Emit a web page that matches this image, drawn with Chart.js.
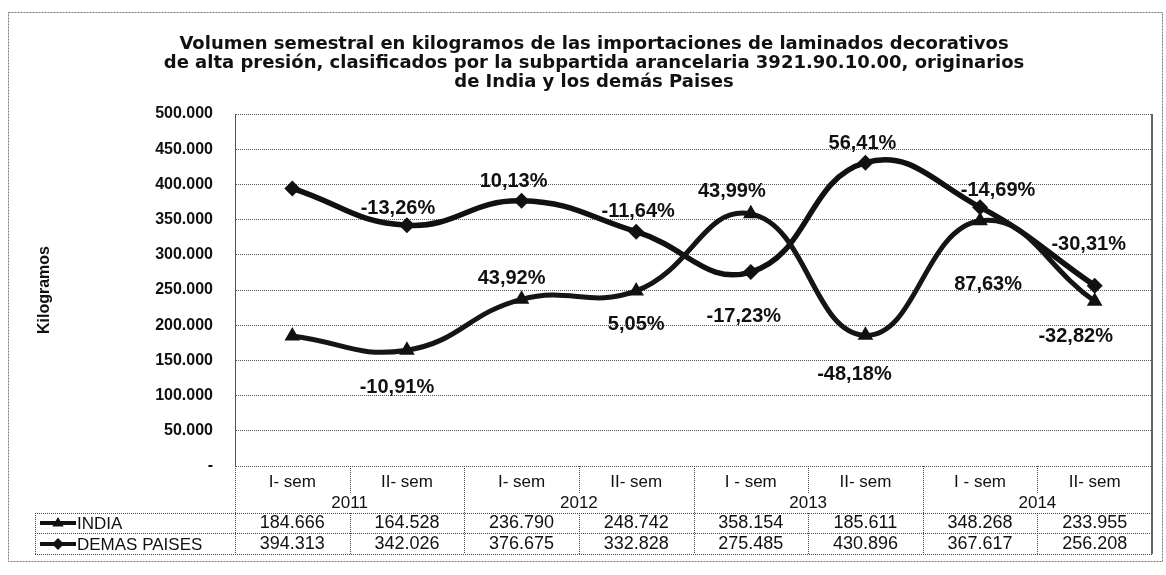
<!DOCTYPE html>
<html>
<head>
<meta charset="utf-8">
<script src="https://cdn.jsdelivr.net/npm/chart.js@4.4.1/dist/chart.umd.min.js"></script>
<style>
  html, body { margin: 0; padding: 0; background: #ffffff; }
  #wrap { position: relative; width: 1166px; height: 575px; }
</style>
</head>
<body>
<div id="wrap"><canvas id="c" width="1166" height="575"></canvas></div>
<script>
// ---------------- data ----------------
const semesters = ['I- sem', 'II- sem', 'I- sem', 'II- sem', 'I - sem', 'II- sem', 'I - sem', 'II- sem'];
const years = ['2011', '2012', '2013', '2014'];
const seriesNames = ['INDIA', 'DEMAS PAISES'];
const india = [184666, 164528, 236790, 248742, 358154, 185611, 348268, 233955];
const demas = [394313, 342026, 376675, 332828, 275485, 430896, 367617, 256208];
const indiaPct = [null, '-10,91%', '43,92%', '5,05%', '43,99%', '-48,18%', '87,63%', '-32,82%'];
const demasPct = [null, '-13,26%', '10,13%', '-11,64%', '-17,23%', '56,41%', '-14,69%', '-30,31%'];
const yTickLabels = ['-', '50.000', '100.000', '150.000', '200.000', '250.000', '300.000', '350.000', '400.000', '450.000', '500.000'];
const titleLines = [
  'Volumen semestral en kilogramos de las importaciones de laminados decorativos',
  'de alta presión, clasificados por la subpartida arancelaria 3921.90.10.00, originarios',
  'de India y los demás Paises'
];
const yAxisTitle = 'Kilogramos';

// ---------------- styling (label offsets relative to their points) ----------------
const indiaPctOffset = [null, [-10, 37], [-10, -21], [0, 34], [-19, -22], [-11, 39], [8, 64], [-19, 35]];
const demasPctOffset = [null, [-9, -17], [-8, -19], [2, -20], [-7, 44], [-3, -19], [18, -17], [-6, -41]];

const FONT = "'Liberation Sans', Arial, sans-serif";
const TITLE_FONT = "'DejaVu Sans', Verdana, sans-serif";
const fmt = n => String(n).replace(/\B(?=(\d{3})+(?!\d))/g, '.');

function drawMarker(ctx, style, x, y, r) {
  ctx.save();
  ctx.fillStyle = '#111';
  ctx.beginPath();
  if (style === 'triangle') {
    ctx.moveTo(x, y - r);
    ctx.lineTo(x + r * 0.95, y + r * 0.6);
    ctx.lineTo(x - r * 0.95, y + r * 0.6);
  } else {
    ctx.moveTo(x, y - r);
    ctx.lineTo(x + r, y);
    ctx.lineTo(x, y + r);
    ctx.lineTo(x - r, y);
  }
  ctx.closePath();
  ctx.fill();
  ctx.restore();
}

function dotted(ctx, x1, y1, x2, y2, color) {
  ctx.save();
  ctx.strokeStyle = color || '#555';
  ctx.lineWidth = 1;
  ctx.setLineDash([1, 1]);
  ctx.beginPath();
  ctx.moveTo(x1, y1);
  ctx.lineTo(x2, y2);
  ctx.stroke();
  ctx.restore();
}

const pctLabels = {
  id: 'pctLabels',
  afterDatasetsDraw(chart) {
    const ctx = chart.ctx;
    const sets = [[indiaPct, indiaPctOffset, 0], [demasPct, demasPctOffset, 1]];
    ctx.save();
    ctx.font = "bold 20px " + FONT;
    ctx.fillStyle = '#111';
    ctx.textAlign = 'center';
    ctx.textBaseline = 'middle';
    sets.forEach(([labels, offs, di]) => {
      const meta = chart.getDatasetMeta(di);
      labels.forEach((t, i) => {
        if (!t) return;
        const p = meta.data[i];
        ctx.fillText(t, p.x + offs[i][0], p.y + offs[i][1]);
      });
    });
    ctx.restore();
  }
};

const frameAndTable = {
  id: 'frameAndTable',
  afterDraw(chart) {
    const ctx = chart.ctx;
    const area = chart.chartArea;
    const xs = chart.scales.x;
    const n = semesters.length;
    const step = xs.getPixelForValue(1) - xs.getPixelForValue(0);
    const bound = i => xs.getPixelForValue(i) - step / 2;   // left edge of column i
    const top = area.bottom;
    const semY = top + 16, yearY = top + 37, line1 = top + 47;
    const row1Y = top + 57, line2 = top + 67, row2Y = top + 78, bottom = top + 88;
    const legL = 35;

    // outer frame
    ctx.save();
    ctx.strokeStyle = '#777';
    ctx.lineWidth = 1;
    ctx.setLineDash([2, 1]);
    ctx.strokeRect(8.5, 12.5, 1154, 549);
    ctx.restore();

    // plot right border (solid)
    ctx.save();
    ctx.strokeStyle = '#333';
    ctx.lineWidth = 1.5;
    ctx.beginPath();
    ctx.moveTo(area.right, area.top);
    ctx.lineTo(area.right, bottom);
    ctx.stroke();
    ctx.restore();

    // horizontal table lines
    dotted(ctx, legL, line1 + 0.5, area.right, line1 + 0.5, '#444');
    dotted(ctx, legL, line2 + 0.5, area.right, line2 + 0.5, '#444');
    dotted(ctx, legL, bottom + 0.5, area.right, bottom + 0.5, '#444');
    dotted(ctx, legL + 0.5, line1, legL + 0.5, bottom, '#444');
    dotted(ctx, area.left + 0.5, top, area.left + 0.5, bottom, '#444');

    // vertical dividers
    for (let i = 1; i < n; i++) {
      const x = Math.round(bound(i)) + 0.5;
      if (i % 2 === 0) {
        dotted(ctx, x, top, x, bottom, '#444');
      } else {
        dotted(ctx, x, top, x, top + 27, '#444');
        dotted(ctx, x, line1, x, bottom, '#444');
      }
    }

    ctx.save();
    ctx.fillStyle = '#111';
    ctx.textAlign = 'center';
    ctx.textBaseline = 'middle';
    ctx.font = "17px " + FONT;
    semesters.forEach((s, i) => ctx.fillText(s, xs.getPixelForValue(i), semY));
    years.forEach((y, k) => ctx.fillText(y, bound(2 * k + 1), yearY));
    ctx.font = "18px " + FONT;
    india.forEach((v, i) => ctx.fillText(fmt(v), xs.getPixelForValue(i), row1Y));
    demas.forEach((v, i) => ctx.fillText(fmt(v), xs.getPixelForValue(i), row2Y));

    // legend keys
    ctx.textAlign = 'left';
    ctx.font = "17px " + FONT;
    [[row1Y, 'triangle', seriesNames[0]], [row2Y, 'diamond', seriesNames[1]]].forEach(([y, st, name]) => {
      ctx.save();
      ctx.strokeStyle = '#111';
      ctx.lineWidth = 4;
      ctx.beginPath();
      ctx.moveTo(40, y);
      ctx.lineTo(76, y);
      ctx.stroke();
      ctx.restore();
      drawMarker(ctx, st, 58, y, 6);
      ctx.fillText(name, 77, y + 1);
    });
    ctx.restore();
  }
};

new Chart(document.getElementById('c'), {
  type: 'line',
  data: {
    labels: semesters,
    datasets: [
      {
        label: seriesNames[0], data: india,
        borderColor: '#151515', backgroundColor: '#111', borderWidth: 5,
        pointStyle: 'triangle', pointRadius: 9, pointBorderWidth: 0,
        tension: 0.45, fill: false
      },
      {
        label: seriesNames[1], data: demas,
        borderColor: '#111', backgroundColor: '#111', borderWidth: 5.5,
        pointStyle: 'rectRot', pointRadius: 8, pointBorderWidth: 0,
        tension: 0.45, fill: false
      }
    ]
  },
  options: {
    responsive: false,
    animation: false,
    devicePixelRatio: 1,
    layout: { padding: { left: 36, right: 14, top: 0, bottom: 109 } },
    plugins: {
      legend: { display: false },
      tooltip: { enabled: false },
      title: {
        display: true,
        text: titleLines,
        color: '#111',
        font: { family: TITLE_FONT, size: 18, weight: 'bold', lineHeight: '19px' },
        padding: { top: 35, bottom: 22 }
      }
    },
    scales: {
      x: {
        display: false,
        offset: true
      },
      y: {
        min: 0, max: 500000,
        afterFit(scale) { scale.width = 199; },
        border: { display: true, color: '#555', dash: [1, 1], width: 1 },
        grid: { color: '#555', lineWidth: 1, drawTicks: false },
        ticks: {
          stepSize: 50000,
          padding: 22,
          color: '#111',
          font: { family: FONT, size: 16, weight: 'bold' },
          callback: (v, i) => yTickLabels[i]
        },
        title: {
          display: true,
          text: yAxisTitle,
          color: '#111',
          font: { family: FONT, size: 16, weight: 'bold', lineHeight: '18px' },
          padding: { top: 0, bottom: 0 }
        }
      }
    }
  },
  plugins: [pctLabels, frameAndTable]
});
</script>
</body>
</html>
